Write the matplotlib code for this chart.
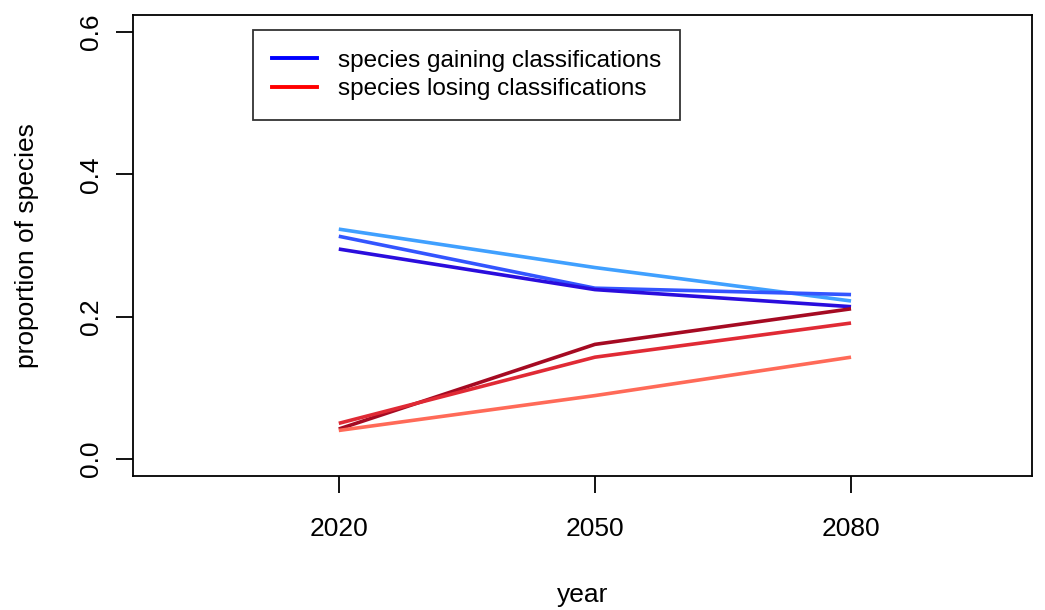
import numpy as np
import matplotlib.pyplot as plt

plt.rcParams['font.family'] = ['Liberation Sans', 'DejaVu Sans']

years = [2020, 2050, 2080]

# proportion of species gaining classifications, one series per scenario
gain_a = [0.323, 0.269, 0.222]
gain_b = [0.313, 0.240, 0.231]
gain_c = [0.295, 0.238, 0.214]

# proportion of species losing classifications
lose_a = [0.042, 0.161, 0.211]
lose_b = [0.050, 0.143, 0.191]
lose_c = [0.040, 0.089, 0.143]

gain_cols = ['#40a0ff', '#3355ff', '#2a0ddd']
lose_cols = ['#a50a22', '#e02a35', '#ff6a58']

fig = plt.figure(figsize=(10.45, 6.1), dpi=100)
ax = fig.add_axes([0.1273, 0.2197, 0.8603, 0.7557])

for ys, c in zip([gain_a, gain_b, gain_c], gain_cols):
    ax.plot(years, ys, color=c, lw=2.6, solid_capstyle='butt')
for ys, c in zip([lose_a, lose_b, lose_c], lose_cols):
    ax.plot(years, ys, color=c, lw=2.6, solid_capstyle='butt')

ax.set_xlim(1995.9, 2101.2)
ax.set_ylim(-0.024, 0.624)
ax.set_xticks(years)
ax.set_xticklabels([str(y) for y in years])
ax.set_yticks([0.0, 0.2, 0.4, 0.6])
ax.set_yticklabels(['0.0', '0.2', '0.4', '0.6'], rotation=90, va='center')
ax.tick_params(axis='both', length=12.5, width=1.3, labelsize=19)
ax.tick_params(axis='x', pad=17)
ax.tick_params(axis='y', pad=9)

for s in ax.spines.values():
    s.set_linewidth(1.3)

ax.set_xlabel('year', fontsize=19, labelpad=30)
ax.set_ylabel('proportion of species', fontsize=19, labelpad=29)

leg_lines = [plt.Line2D([], [], color='#0000ff', lw=2.8),
             plt.Line2D([], [], color='#ff0000', lw=2.8)]
leg = ax.legend(leg_lines, ['species gaining classifications', 'species losing classifications'],
                loc='upper left', bbox_to_anchor=(0.133, 0.967), fontsize=17.5,
                frameon=True, fancybox=False, edgecolor='black', handlelength=1.85,
                borderpad=0.8, labelspacing=0.28, handletextpad=0.85, borderaxespad=0)
leg.get_frame().set_linewidth(1.3)

fig.savefig('out.png', dpi=100)
